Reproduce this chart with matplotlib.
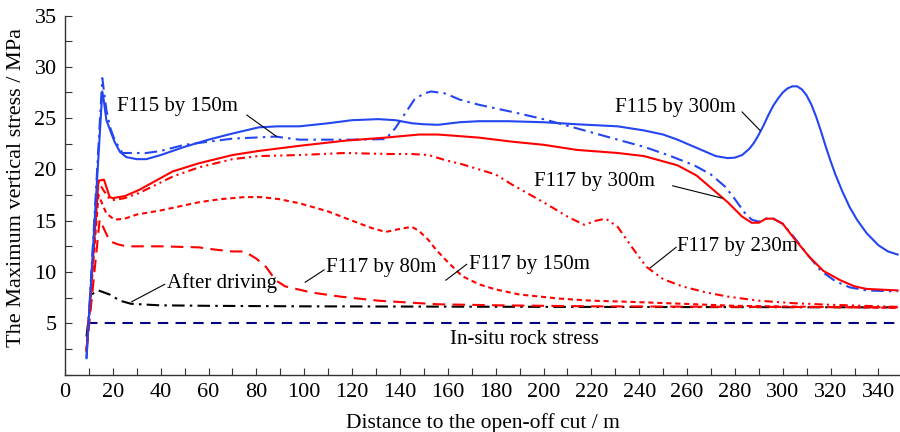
import matplotlib
matplotlib.use("Agg")
import matplotlib.pyplot as plt
from matplotlib.ticker import MultipleLocator

plt.rcParams['font.family'] = ['Liberation Serif', 'DejaVu Serif']

# F115 by 300m (blue solid)
x_b300 = [9, 15.6, 16.3, 17.3, 20.7, 23, 25.6, 30, 34, 40, 50, 60, 70, 81, 89, 98, 110, 120,
          131, 138, 145, 150, 156, 165, 173, 185, 200, 214, 231, 242, 250, 256, 265, 272, 277,
          280, 283, 286, 288, 290, 292, 294, 296, 298, 300, 302, 304, 306, 308, 310, 312, 314,
          316, 318, 320, 322, 325, 328, 331, 335, 340, 344, 348]
y_b300 = [1.6, 27.6, 26.6, 24.8, 22.7, 21.7, 21.2, 21.0, 21.0, 21.4, 22.2, 22.9, 23.5, 24.1, 24.2,
          24.2, 24.5, 24.8, 24.9, 24.8, 24.5, 24.4, 24.35, 24.6, 24.7, 24.7, 24.6, 24.4, 24.2, 23.8,
          23.4, 22.9, 22.0, 21.3, 21.1, 21.15, 21.4, 22.0, 22.6, 23.4, 24.3, 25.3, 26.2, 26.9, 27.5,
          27.9, 28.1, 28.1, 27.8, 27.2, 26.3, 25.1, 23.7, 22.2, 20.8, 19.5, 17.8, 16.3, 15.1, 13.8,
          12.6, 12.0, 11.7]

# F115 by 150m (blue dash-dot)
x_b150 = [9, 15.6, 17.3, 19, 20.7, 24, 30, 34, 40, 50, 60, 70, 88, 98, 110, 120, 134, 138, 142,
          146, 150, 153, 159, 165, 173, 187, 200, 214, 231, 242, 252, 263, 270, 276, 280, 284, 287,
          290, 293, 296, 300, 305, 311, 316, 322, 328, 335, 348]
y_b150 = [1.6, 28.9, 25.8, 24.0, 22.9, 21.6, 21.6, 21.6, 21.8, 22.4, 22.7, 23.0, 23.2, 22.9, 22.9,
          22.9, 22.95, 24.0, 25.4, 26.8, 27.4, 27.6, 27.4, 26.8, 26.3, 25.6, 24.9, 24.0, 22.9, 22.2,
          21.4, 20.4, 19.5, 18.3, 17.1, 15.8, 15.1, 14.9, 15.2, 15.2, 14.7, 13.3, 11.5, 10.1, 9.1,
          8.5, 8.2, 8.1]

# F117 by 300m (red solid)
x_r300 = [9, 14, 16.3, 18.7, 20, 25, 31, 38, 45, 56, 70, 81, 98, 117, 134, 148, 156, 173, 187,
          200, 214, 231, 242, 256, 264, 270, 277, 283, 287, 290, 293, 296, 300, 305, 311, 317, 324,
          330, 335, 348]
y_r300 = [2.3, 18.9, 19.0, 17.3, 17.2, 17.4, 18.0, 18.9, 19.8, 20.6, 21.4, 21.8, 22.3, 22.8, 23.1,
          23.4, 23.4, 23.1, 22.7, 22.4, 21.9, 21.6, 21.3, 20.4, 19.4, 18.2, 16.8, 15.4, 14.8, 14.8,
          15.2, 15.2, 14.7, 13.2, 11.5, 10.1, 9.2, 8.6, 8.35, 8.2]

# F117 by 230m (red dash-dot-dot)
x_r230 = [9, 14, 16, 18.7, 20, 25, 31, 38, 45, 56, 70, 81, 98, 117, 135, 145, 152, 159, 166, 173,
          180, 187, 200, 210, 217, 222, 226, 231, 237, 243, 250, 258, 268, 277, 290, 305, 320, 348]
y_r230 = [2.3, 18.8, 18.0, 17.1, 17.0, 17.2, 17.7, 18.5, 19.3, 20.2, 21.0, 21.3, 21.4, 21.6, 21.5,
          21.5, 21.4, 20.9, 20.5, 20.0, 19.5, 18.5, 16.8, 15.4, 14.6, 15.0, 15.2, 14.4, 12.4, 10.5,
          9.3, 8.6, 8.0, 7.6, 7.2, 6.95, 6.8, 6.6]

# F117 by 150m (red short dash)
x_r150 = [9, 14, 17.3, 20.7, 25, 30, 40, 50, 56, 65, 75, 82, 89.5, 98, 110, 120, 128, 134, 140,
          145, 148, 152, 155, 159, 166, 173, 180, 190, 207, 220, 235, 258, 280, 348]
y_r150 = [2.3, 17.5, 15.7, 15.1, 15.2, 15.6, 16.0, 16.5, 16.8, 17.1, 17.3, 17.3, 17.1, 16.7, 15.9,
          15.0, 14.3, 13.9, 14.2, 14.4, 14.0, 13.1, 12.2, 11.2, 9.6, 8.8, 8.3, 7.8, 7.4, 7.2, 7.1,
          6.9, 6.7, 6.5]

# F117 by 80m (red long dash)
x_r80 = [9, 14.5, 18.7, 22, 25.6, 40, 56, 62, 70, 75, 80, 84, 88, 92, 103, 115, 131, 145, 156,
         181, 220, 348]
y_r80 = [2.3, 15.1, 13.0, 12.7, 12.5, 12.5, 12.4, 12.2, 12.0, 12.0, 11.3, 10.5, 9.2, 8.6, 8.0,
         7.6, 7.2, 7.0, 6.85, 6.75, 6.65, 6.55]

# After driving (black dash-dot)
x_drv = [9, 11, 14, 18.7, 23, 27.6, 39.5, 60, 100, 200, 348]
y_drv = [3.7, 7.8, 8.2, 7.8, 7.2, 6.9, 6.75, 6.7, 6.65, 6.6, 6.55]

# In-situ rock stress
x_ins = [9, 348]
y_ins = [5.0, 5.0]

blue = '#2346f0'
red = '#ff0000'
fs = 15

fig = plt.figure(figsize=(9, 4.32), dpi=100)
ax = fig.add_axes([0.0722, 0.133, 0.9278, 0.831])

ax.plot(x_ins, y_ins, color='#000080', lw=1.5, dashes=(5, 3.5))
ax.plot(x_drv, y_drv, color='black', lw=1.5, dashes=(6, 2.5, 1.2, 2.5))
ax.plot(x_r80, y_r80, color=red, lw=1.5, dashes=(6, 3.5))
ax.plot(x_r150, y_r150, color=red, lw=1.5, dashes=(2.5, 1.8))
ax.plot(x_r230, y_r230, color=red, lw=1.5, dashes=(4, 2, 1, 2, 1, 2))
ax.plot(x_b150, y_b150, color=blue, lw=1.5, dashes=(6, 2.5, 1.2, 2.5))
ax.plot(x_r300, y_r300, color=red, lw=1.5)
ax.plot(x_b300, y_b300, color=blue, lw=1.5)

ax.set_xlim(0, 349)
ax.set_ylim(0, 35)
ax.set_xticks(range(0, 341, 20))
ax.xaxis.set_minor_locator(MultipleLocator(10))
ax.set_yticks(range(5, 36, 5))
ax.yaxis.set_minor_locator(MultipleLocator(2.5))
ax.tick_params(which='both', direction='in', length=5, width=0.8, color='#333333',
               labelsize=16, pad=6)
for s in ['top', 'right']:
    ax.spines[s].set_visible(False)
for s in ['left', 'bottom']:
    ax.spines[s].set_color('#333333')
    ax.spines[s].set_linewidth(1.0)

ax.set_xlabel('Distance to the open-off cut / m', fontsize=15.5, labelpad=8)
ax.set_ylabel('The Maximum vertical stress / MPa', fontsize=16)
ax.yaxis.set_label_coords(-0.047, 0.52)

notes = [
    ('F115 by 150m', (21.7, 26.1), (76, 25.3), (88.5, 23.2), 'left'),
    ('F115 by 300m', (230, 26.0), (283, 25.6), (290.5, 23.8), 'left'),
    ('F117 by 300m', (196, 18.8), (254, 18.4), (274.6, 17.2), 'left'),
    ('F117 by 230m', (256, 12.5), (255.4, 12.4), (244.6, 10.4), 'left'),
    ('F117 by 150m', (168.8, 10.7), (167.9, 10.75), (159.2, 9.2), 'left'),
    ('F117 by 80m', (109, 10.4), (108.3, 10.2), (100.4, 9.0), 'left'),
    ('After driving', (42.5, 8.9), (41.7, 8.8), (27.9, 7.1), 'left'),
]
for txt, pos, p0, p1, ha in notes:
    ax.text(pos[0], pos[1], txt, fontsize=fs, ha=ha, va='center')
    ax.plot([p0[0], p1[0]], [p0[1], p1[1]], color='black', lw=0.8)

ax.text(192, 3.4, 'In-situ rock stress', fontsize=fs, ha='center', va='center')

fig.savefig('out.png', dpi=100)
